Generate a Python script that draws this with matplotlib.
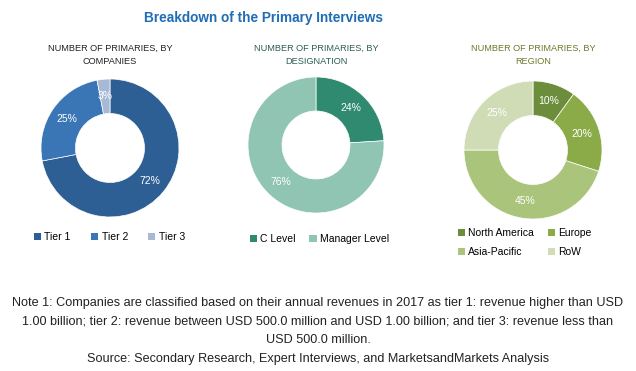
import matplotlib
matplotlib.use("Agg")
import matplotlib.pyplot as plt
from matplotlib.patches import Patch

W, H = 636, 371

TITLE = "Breakdown of the Primary Interviews"

COMPANY_LABELS = ["Tier 1", "Tier 2", "Tier 3"]
COMPANY_VALUES = [72, 25, 3]
COMPANY_COLORS = ["#2d5f95", "#3a76b6", "#a7b9d5"]

DESIG_LABELS = ["C Level", "Manager Level"]
DESIG_VALUES = [24, 76]
DESIG_COLORS = ["#2f8a70", "#8fc5b2"]

REGION_LABELS = ["North America", "Europe", "Asia-Pacific", "RoW"]
REGION_VALUES = [10, 20, 45, 25]
REGION_COLORS = ["#6c8d3b", "#8bab49", "#aac57b", "#d0dcb5"]

NOTE = ("Note 1: Companies are classified based on their annual revenues in 2017 as tier 1: revenue higher than USD\n"
        "1.00 billion; tier 2: revenue between USD 500.0 million and USD 1.00 billion; and tier 3: revenue less than\n"
        "USD 500.0 million.\n"
        "Source: Secondary Research, Expert Interviews, and MarketsandMarkets Analysis")

plt.rcParams["font.family"] = ["Liberation Sans", "DejaVu Sans"]

fig = plt.figure(figsize=(W / 100, H / 100), dpi=100)


def px(x, y):
    return x / W, 1 - y / H


def donut(cx, cy, r, values, colors):
    ax = fig.add_axes([(cx - r) / W, 1 - (cy + r) / H, 2 * r / W, 2 * r / H])
    wedges, _, _ = ax.pie(values, colors=colors, startangle=90, counterclock=False,
                          autopct="%d%%", pctdistance=0.75, radius=1,
                          wedgeprops=dict(width=0.5, edgecolor="white", linewidth=0.5),
                          textprops=dict(color="white", fontsize=7.5))
    ax.set_xlim(-1, 1)
    ax.set_ylim(-1, 1)
    ax.axis("off")
    return wedges


x, y = px(263, 18)
fig.text(x, y, TITLE, ha="center", va="center", fontsize=9.8, fontweight="bold", color="#1f6db4")

subs = [(110, "NUMBER OF PRIMARIES, BY\nCOMPANIES", "#222222"),
        (316, "NUMBER OF PRIMARIES, BY\nDESIGNATION", "#2b5d56"),
        (533, "NUMBER OF PRIMARIES, BY\nREGION", "#6b7b2c")]
for cx, s, c in subs:
    x, y = px(cx, 55)
    fig.text(x, y, s, ha="center", va="center", fontsize=6.6, color=c, linespacing=1.55)

donut(110, 148, 69, COMPANY_VALUES, COMPANY_COLORS)
donut(316, 145, 68, DESIG_VALUES, DESIG_COLORS)
donut(533, 150, 69, REGION_VALUES, REGION_COLORS)


def legend(labels, colors, x, y, ncol, colsp, lsp=0.75):
    handles = [Patch(facecolor=c, edgecolor="none") for c in colors]
    fig.legend(handles, labels, loc="upper left", bbox_to_anchor=px(x, y), ncol=ncol,
               frameon=False, fontsize=7.5, handlelength=0.7, handleheight=0.7,
               handletextpad=0.3, columnspacing=colsp, labelspacing=lsp,
               borderaxespad=0, borderpad=0)


legend(COMPANY_LABELS, COMPANY_COLORS, 34, 232, 3, 1.95)
legend(DESIG_LABELS, DESIG_COLORS, 250, 234, 2, 1.3)
# matplotlib fills legend columns first, so order so rows read NA/Europe, AP/RoW
order = [0, 2, 1, 3]
legend([REGION_LABELS[i] for i in order], [REGION_COLORS[i] for i in order], 458, 228, 2, 1.3, 0.85)

x, y = px(318, 331)
fig.text(x, y, NOTE, ha="center", va="center", fontsize=9.1, color="#222222", linespacing=1.75)

fig.savefig("out.png", dpi=100)
